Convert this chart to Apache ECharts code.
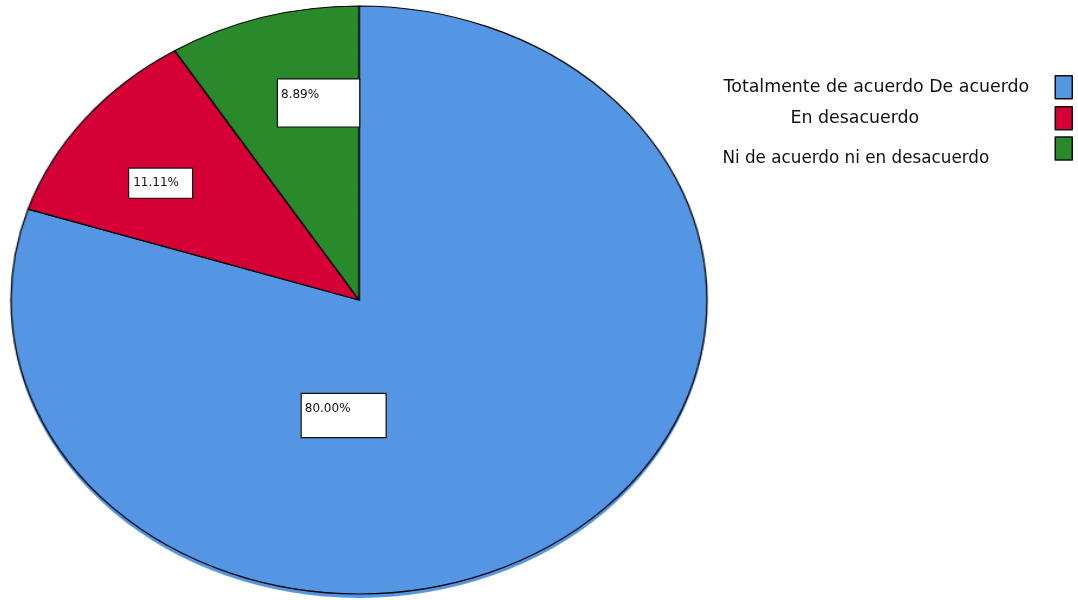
<!DOCTYPE html>
<html>
<head>
<meta charset="utf-8">
<script src="https://cdn.jsdelivr.net/npm/echarts@6/dist/echarts.min.js"></script>
<style>
  html, body { margin: 0; padding: 0; background: #fff; }
  #wrap { position: relative; width: 1078px; height: 600px; overflow: hidden; }
  #pie { position: absolute; left: 59px; top: 0; width: 600px; height: 600px;
         transform-origin: 300px 300px; transform: scaleX(1.1837); }
  #over { position: absolute; left: 0; top: 0; width: 1078px; height: 600px; }
</style>
</head>
<body>
<div id="wrap"><div id="pie"></div><div id="over"></div></div>
<script>
// Data (counts of respondents, n = 45)
const categories = ['Totalmente de acuerdo De acuerdo', 'En desacuerdo', 'Ni de acuerdo ni en desacuerdo'];
const counts = [36, 5, 4];
const colors = ['#5495E4', '#D50035', '#288A2A'];

// ---- Elliptical pie (drawn as a circle, stretched horizontally) ----
const pieChart = echarts.init(document.getElementById('pie'), null, { renderer: 'canvas' });
pieChart.setOption({
  animation: false,
  series: [
    { // slight blue drop edge under the pie
      type: 'pie', silent: true, center: [300, 304], radius: 294,
      startAngle: 90, clockwise: true, label: { show: false }, labelLine: { show: false },
      itemStyle: { color: colors[0], borderWidth: 0 },
      data: categories.map((c, i) => ({ name: c, value: counts[i] }))
    },
    {
      type: 'pie', silent: true, center: [300, 300], radius: 294,
      startAngle: 90, clockwise: true, label: { show: false }, labelLine: { show: false },
      itemStyle: { borderColor: '#000', borderWidth: 1.2 },
      data: categories.map((c, i) => ({ name: c, value: counts[i], itemStyle: { color: colors[i] } }))
    }
  ]
});

// ---- Overlay: labels and legend (unstretched text) ----
const labelBoxes = [
  { pad: [8.5, 35, 8.5, 3], lh: 13, tail: '\n', off: [-103.5, -5.9] },
  { pad: [7.5, 13, 7.5, 4], lh: 14, tail: '', off: [-80.2, -24.5] },
  { pad: [6.5, 40, 6.5, 3], lh: 17, tail: '\n', off: [0.9, -52.9] }
];
const legendPos = [
  { top: 75, pad: [0, 21, 0, 0], pre: '', fs: 17.4 },
  { top: 106, pad: [0, 131, 0, 0], pre: '', fs: 17.4 },
  { top: 127.5, pad: [0, 61, 0, 0], pre: '\n', fs: 16.8 }
];
const over = echarts.init(document.getElementById('over'), null, { renderer: 'canvas' });
over.setOption({
  animation: false,
  legend: categories.map((c, i) => ({
    right: 5, top: legendPos[i].top, padding: 0, align: 'right', orient: 'vertical',
    itemWidth: 17, itemHeight: 23, icon: 'rect', selectedMode: false,
    formatter: name => legendPos[i].pre + name,
    itemStyle: { borderColor: '#111', borderWidth: 1.5, opacity: 1 },
    textStyle: { fontFamily: 'DejaVu Sans', fontSize: legendPos[i].fs, lineHeight: 21, color: '#111', padding: legendPos[i].pad },
    data: [{ name: c, itemStyle: { color: colors[i], borderColor: '#111', borderWidth: 1.5 } }]
  })),
  series: [{
    type: 'pie', silent: true, center: [359, 300], radius: 294,
    startAngle: 90, clockwise: true, labelLine: { show: false },
    itemStyle: { color: 'rgba(0,0,0,0)', borderWidth: 0 },
    emphasis: { disabled: true },
    label: {
      show: true, position: 'inside', color: '#111',
      fontFamily: 'DejaVu Sans', fontSize: 12,
      backgroundColor: '#fff', borderColor: '#111', borderWidth: 1.2,
      formatter: p => p.percent.toFixed(2) + '%' + labelBoxes[p.dataIndex].tail
    },
    data: categories.map((c, i) => ({
      name: c, value: counts[i],
      label: { padding: labelBoxes[i].pad, lineHeight: labelBoxes[i].lh, offset: labelBoxes[i].off }
    }))
  }]
});
</script>
</body>
</html>
